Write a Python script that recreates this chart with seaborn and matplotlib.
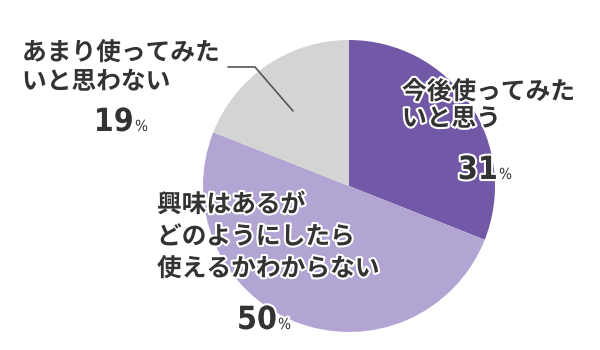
import matplotlib
matplotlib.use("Agg")
import matplotlib.pyplot as plt
import matplotlib.patheffects as pe
import seaborn as sns

categories = ["今後使ってみた\nいと思う", "興味はあるが\nどのようにしたら\n使えるかわからない", "あまり使ってみた\nいと思わない"]
values = [31, 50, 19]
pct_labels = ["31", "50", "19"]
colors = ["#7259a7", "#b2a4d3", "#d3d4d4"]

sns.set_theme(style="white")
plt.rcParams['font.family'] = ['Noto Sans CJK JP', 'DejaVu Sans']

W, H = 600, 350
fig = plt.figure(figsize=(6, 3.5), dpi=100)
cx, cy, r = 349, 186, 146
ax = fig.add_axes([(cx - r) / W, (H - cy - r) / H, 2 * r / W, 2 * r / H])
ax.pie(values, colors=colors, startangle=90, counterclock=False,
       wedgeprops=dict(linewidth=0))
ax.set_xlim(-1, 1)
ax.set_ylim(-1, 1)
ax.set_aspect('equal')
ax.axis('off')

txtc = "#333333"
halo = [pe.withStroke(linewidth=3, foreground="white")]

def px(x, y):
    return x / W, 1 - y / H

# category labels (left x, center y of first line, line spacing)
label_pos = [(402, 92, 27), (157, 205, 32), (22, 53, 29)]
for lab, (x, y, sp) in zip(categories, label_pos):
    for i, line in enumerate(lab.split("\n")):
        fig.text(*px(x, y + i * sp), line, ha="left", va="center",
                 fontsize=17.8, fontweight="bold", color=txtc,
                 path_effects=halo)

# percentages: (right edge of number x, baseline y)
pct_pos = [(498, 179), (277, 329), (134, 131)]
for p, (x, y) in zip(pct_labels, pct_pos):
    fig.text(*px(x, y), p, ha="right", va="baseline",
             fontsize=23, fontweight="bold", fontstretch="condensed",
             color=txtc, family=["DejaVu Sans"],
             path_effects=halo)
    fig.text(*px(x + 1, y), "%", ha="left", va="baseline",
             fontsize=11, fontstretch="condensed", color=txtc,
             family=["DejaVu Sans"],
             path_effects=halo)

# leader line for the grey slice
fig.add_artist(plt.Line2D([228 / W, 255 / W, 293 / W],
                          [1 - 67 / H, 1 - 67 / H, 1 - 111 / H],
                          color="#555555", linewidth=1.2))

fig.savefig("out.png", dpi=100)
